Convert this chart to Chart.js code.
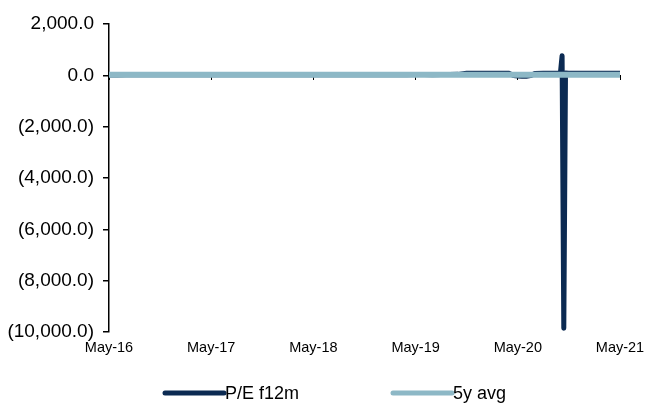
<!DOCTYPE html>
<html>
<head>
<meta charset="utf-8">
<script src="https://cdn.jsdelivr.net/npm/chart.js@4.4.1/dist/chart.umd.min.js"></script>
<style>
  html, body { margin: 0; padding: 0; background: #ffffff; }
  #wrap { width: 648px; height: 403px; position: relative; }
</style>
</head>
<body>
<div id="wrap"><canvas id="chart"></canvas></div>
<script>
// Axis labels, one per year (the x scale counts months from May-16)
const tickLabels = ['May-16', 'May-17', 'May-18', 'May-19', 'May-20', 'May-21'];

// Forward 12-month P/E, month offsets and values
const peMonths = [
  0, 1, 2, 3, 4, 5, 6, 7, 8, 9, 10, 11,
  12, 13, 14, 15, 16, 17, 18, 19, 20, 21, 22, 23,
  24, 25, 26, 27, 28, 29, 30, 31, 32, 33, 34, 35,
  36, 37, 38, 39, 40, 41, 42, 43, 44, 45, 46, 47,
  47.5, 48, 48.5, 49, 49.5, 50, 51, 52, 53, 53.2, 53.4, 53.6,
  54, 55, 56, 57, 58, 59, 60
];
const peValues = [
  17.2, 17.8, 18.4, 19.1, 18.6, 17.9, 18.3, 19.5, 20.2, 21.0, 20.4, 19.8,
  20.6, 21.3, 22.1, 21.7, 22.5, 23.4, 22.8, 21.9, 22.6, 23.8, 24.5, 23.9,
  22.7, 21.5, 20.8, 21.6, 22.3, 23.1, 24.6, 25.8, 27.2, 26.5, 25.9, 27.4,
  28.8, 27.6, 26.9, 28.3, 30.5, 38.0, 78.6, 81.2, 83.5, 80.7, 79.4, 76.8,
  -8.0, -28.4, -36.2, -32.5, -12.0, 68.9, 79.5, 82.3, 86.1, 760.0, -9850.0, 88.0,
  84.6, 81.9, 79.3, 77.8, 78.5, 80.1, 79.2
];

// Five-year average
const avgMonths = [0, 60];
const avgValues = [21.6, 21.6];

const fontFamily = "'Liberation Sans', Arial, sans-serif";
const yTickFont = { family: fontFamily, size: 19 };
const xTickFont = { family: fontFamily, size: 14.5 };
const legendFont = '18px ' + fontFamily;

function formatValue(v) {
  const s = Math.abs(v).toLocaleString('en-US', { minimumFractionDigits: 1, maximumFractionDigits: 1 });
  return v < 0 ? '(' + s + ')' : s;
}

function points(xs, ys) {
  return xs.map((x, i) => ({ x: x, y: ys[i] }));
}

// Legend drawn as a line sample followed by its label
const lineLegend = {
  id: 'lineLegend',
  afterDraw(chart) {
    const ctx = chart.ctx;
    const y = 393;
    const slots = [
      { ds: 0, start: 165 },
      { ds: 1, start: 393 }
    ];
    ctx.save();
    ctx.font = legendFont;
    ctx.textBaseline = 'middle';
    ctx.textAlign = 'left';
    slots.forEach(s => {
      const ds = chart.data.datasets[s.ds];
      ctx.strokeStyle = ds.borderColor;
      ctx.lineWidth = 5;
      ctx.lineCap = 'round';
      ctx.beginPath();
      ctx.moveTo(s.start, y);
      ctx.lineTo(s.start + 59, y);
      ctx.stroke();
      ctx.fillStyle = '#000000';
      ctx.fillText(ds.label, s.start + 60, y + 1);
    });
    ctx.restore();
  }
};

new Chart(document.getElementById('chart'), {
  type: 'line',
  data: {
    datasets: [
      {
        label: 'P/E f12m',
        data: points(peMonths, peValues),
        borderColor: '#0b2a52',
        borderWidth: 5,
        borderJoinStyle: 'round',
        borderCapStyle: 'round',
        pointRadius: 0,
        tension: 0,
        order: 2
      },
      {
        label: '5y avg',
        data: points(avgMonths, avgValues),
        borderColor: '#8db8c6',
        borderWidth: 6,
        borderCapStyle: 'butt',
        pointRadius: 0,
        tension: 0,
        order: 1
      }
    ]
  },
  options: {
    responsive: true,
    maintainAspectRatio: false,
    animation: false,
    layout: { padding: { left: 0, right: 28, top: 24, bottom: 0 } },
    plugins: {
      legend: { display: false },
      tooltip: { enabled: false }
    },
    scales: {
      x: {
        type: 'linear',
        position: 'bottom',
        min: 0,
        max: 60,
        grid: { display: false, drawTicks: false },
        border: { display: false },
        ticks: {
          stepSize: 12,
          autoSkip: false,
          maxRotation: 0,
          padding: 7,
          color: '#000000',
          font: xTickFont,
          callback: v => tickLabels[Math.round(v / 12)]
        },
        afterFit: s => {
          s.height = 71;
          s.paddingLeft = 0;
          s.paddingRight = 0;
        }
      },
      xZero: {
        type: 'linear',
        axis: 'x',
        position: { y: 0 },
        min: 0,
        max: 60,
        grid: { drawOnChartArea: false, drawTicks: true, tickLength: 4, color: '#000000', lineWidth: 1 },
        border: { display: true, color: '#000000', width: 1 },
        ticks: { display: false, stepSize: 12, autoSkip: false }
      },
      y: {
        min: -10000,
        max: 2000,
        grid: { drawOnChartArea: false, drawTicks: true, tickLength: 6, color: '#000000', lineWidth: 1.5 },
        border: { display: true, color: '#000000', width: 1.5 },
        ticks: {
          stepSize: 2000,
          padding: 9,
          color: '#000000',
          font: yTickFont,
          callback: v => formatValue(v)
        },
        afterFit: s => { s.width = 109; }
      }
    }
  },
  plugins: [lineLegend]
});
</script>
</body>
</html>
